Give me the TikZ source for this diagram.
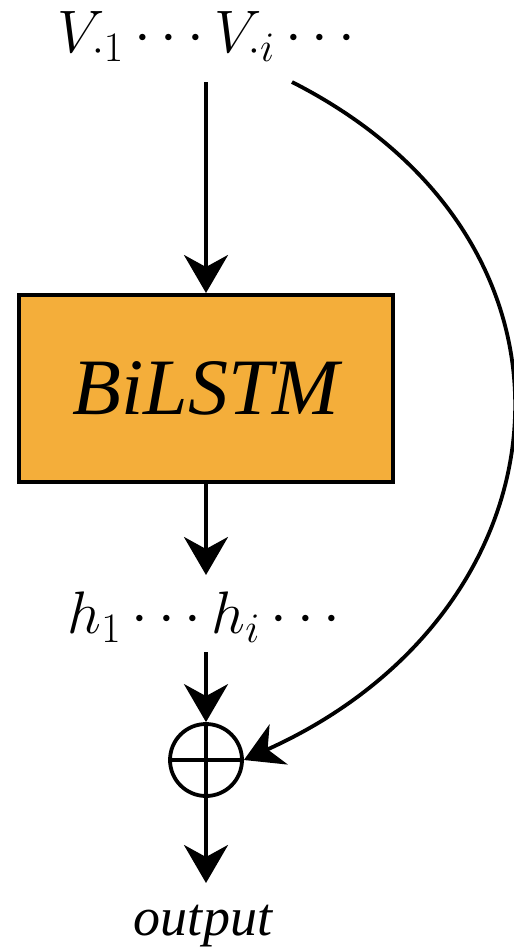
\RequirePackage{fix-cm}
\documentclass[tikz,border=0pt]{standalone}
\usepackage{fontspec}
\newfontfamily\timesfont{Liberation Serif}
\usetikzlibrary{arrows.meta}
\definecolor{boxorange}{RGB}{244,174,58}
\tikzset{
  arr/.style={line width=1.9pt,-{Stealth[length=19pt,width=22pt,inset=6pt]}},
  conn/.style={line width=1.9pt},
  mathlabel/.style={inner sep=0pt,anchor=base,font=\fontsize{30}{36}\selectfont},
  boxnode/.style={draw,line width=2pt,fill=boxorange,minimum width=187pt,minimum height=93.5pt,inner sep=0pt,font=\timesfont\itshape\fontsize{40}{46}\selectfont},
  plusnode/.style={draw,circle,line width=1.9pt,minimum size=36pt,inner sep=0pt},
  outlabel/.style={inner sep=0pt,anchor=base,font=\timesfont\itshape\fontsize{27}{32}\selectfont}
}
\begin{document}
\begin{tikzpicture}[x=0.5pt,y=-0.5pt]
\useasboundingbox (0,0) rectangle (514,949);
\node[mathlabel] (vtext) at (206.5,52) {$V_{\cdot 1}\cdots V_{\cdot i}\cdots$};
\node[boxnode] (box) at (206,388.5) {BiLSTM};
\node[mathlabel] (htext) at (204,633) {$h_1\cdots h_i\cdots$};
\node[plusnode] (plus) at (206,760) {};
\node[outlabel] (out) at (203,935) {output};
\coordinate (vstart) at (206,82);
\coordinate (cstart) at (292,82);
\coordinate (hmid) at (206,575);
\coordinate (hstart) at (206,652);
\coordinate (outtip) at (206,883);
\draw[conn] (plus.north) -- (plus.south);
\draw[conn] (plus.west) -- (plus.east);
\draw[arr] (vstart) -- (box.north);
\draw[arr] (box.south) -- (hmid);
\draw[arr] (hstart) -- (plus.north);
\draw[arr] (plus.south) -- (outtip);
\draw[arr] (cstart) .. controls (613,245) and (573,612) .. (plus.east);
\end{tikzpicture}
\end{document}
